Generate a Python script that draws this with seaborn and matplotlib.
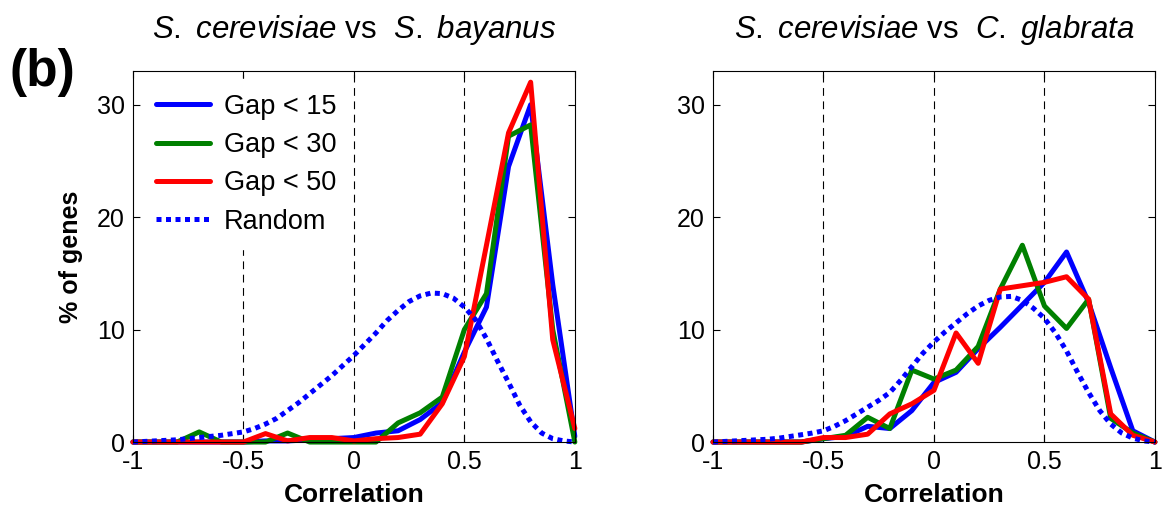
import numpy as np
import pandas as pd
import matplotlib
matplotlib.use("Agg")
import matplotlib.pyplot as plt
import seaborn as sns

sns.set_style("ticks")
plt.rcParams["font.family"] = ["Liberation Sans Narrow", "Liberation Sans", "DejaVu Sans"]
plt.rcParams["mathtext.fontset"] = "custom"
plt.rcParams["mathtext.rm"] = "Liberation Sans"
plt.rcParams["mathtext.it"] = "Liberation Sans:italic"
for key in ["text.color", "axes.labelcolor", "xtick.color", "ytick.color", "axes.edgecolor"]:
    plt.rcParams[key] = "black"

# Correlation bins (step 0.1) and % of genes per bin
corr_bins = [-1.0, -0.9, -0.8, -0.7, -0.6, -0.5, -0.4, -0.3, -0.2, -0.1, 0.0,
             0.1, 0.2, 0.3, 0.4, 0.5, 0.6, 0.7, 0.8, 0.9, 1.0]

# S. cerevisiae vs S. bayanus
bay_gap15 = [0, 0, 0, 0, 0, 0, 0.1, 0.1, 0.2, 0.3, 0.4, 0.8, 1.0, 2.0, 3.5, 8.0, 12.0, 24.5, 30.0, 14.0, 0.5]
bay_gap30 = [0, 0, 0, 0.9, 0, 0, 0, 0.8, 0, 0, 0, 0, 1.7, 2.6, 4.0, 10.0, 13.2, 27.2, 28.2, 10.0, 0]
bay_gap50 = [0, 0, 0, 0, 0, 0, 0.75, 0.1, 0.4, 0.4, 0.1, 0.3, 0.4, 0.7, 3.4, 7.6, 17.5, 27.5, 32.0, 9.1, 1.2]

# S. cerevisiae vs C. glabrata
gla_gap15 = [0, 0, 0, 0, 0, 0.3, 0.5, 1.4, 1.2, 2.8, 5.3, 6.2, 8.3, 10.2, 12.2, 14.2, 16.9, 12.4, 6.6, 1.0, 0]
gla_gap30 = [0, 0, 0, 0, 0, 0.3, 0.6, 2.2, 1.2, 6.4, 5.6, 6.4, 8.5, 13.6, 17.5, 12.1, 10.1, 12.7, 2.1, 0.8, 0]
gla_gap50 = [0, 0, 0, 0, 0, 0.4, 0.4, 0.7, 2.5, 3.4, 4.6, 9.7, 7.0, 13.6, 13.9, 14.2, 14.7, 12.7, 2.5, 0.6, 0]

# Random background, sampled every 0.05
rand_x = [-1.0, -0.95, -0.9, -0.85, -0.8, -0.75, -0.7, -0.65, -0.6, -0.55, -0.5,
          -0.45, -0.4, -0.35, -0.3, -0.25, -0.2, -0.15, -0.1, -0.05, 0.0,
          0.05, 0.1, 0.15, 0.2, 0.25, 0.3, 0.35, 0.4, 0.45, 0.5,
          0.55, 0.6, 0.65, 0.7, 0.75, 0.8, 0.85, 0.9, 0.95, 1.0]
bay_random = [0, 0.05, 0.1, 0.15, 0.2, 0.3, 0.4, 0.5, 0.6, 0.75, 0.9,
              1.2, 1.6, 2.1, 2.8, 3.5, 4.3, 5.1, 5.9, 6.8, 7.7,
              8.7, 9.7, 10.8, 11.7, 12.5, 13.0, 13.25, 13.2, 12.8, 12.0,
              10.9, 9.2, 7.2, 5.3, 3.3, 1.8, 0.8, 0.3, 0.1, 0]
gla_random = [0, 0.05, 0.1, 0.15, 0.2, 0.25, 0.35, 0.5, 0.65, 0.8, 1.0,
              1.4, 1.9, 2.5, 3.1, 3.7, 4.4, 5.5, 6.7, 7.9, 8.9,
              9.8, 10.6, 11.4, 12.1, 12.6, 12.9, 12.95, 12.6, 11.9, 11.0,
              9.7, 8.1, 6.2, 4.4, 2.8, 1.6, 0.8, 0.35, 0.1, 0]

gap_labels = ["Gap < 15", "Gap < 30", "Gap < 50"]
colors = ["#0000ff", "#008000", "#ff0000"]

fig = plt.figure(figsize=(11.66, 5.14), dpi=100)
ax1 = fig.add_axes([0.114, 0.140, 0.379, 0.722])
ax2 = fig.add_axes([0.6115, 0.140, 0.379, 0.722])

panels = [
    (ax1, [bay_gap15, bay_gap30, bay_gap50], bay_random,
     r"$\mathit{S.\ cerevisiae}$ vs  $\mathit{S.\ bayanus}$"),
    (ax2, [gla_gap15, gla_gap30, gla_gap50], gla_random,
     r"$\mathit{S.\ cerevisiae}$ vs  $\mathit{C.\ glabrata}$"),
]

for ax, gaps, rnd, title in panels:
    for xv in [-0.5, 0, 0.5]:
        ax.axvline(xv, color="black", lw=0.8, ls=(0, (7, 5)), zorder=1)
    for vals, lab, col in zip(gaps, gap_labels, colors):
        df = pd.DataFrame({"corr": corr_bins, "pct": vals})
        sns.lineplot(data=df, x="corr", y="pct", ax=ax, color=col, lw=3.6,
                     label=lab, clip_on=False, zorder=3)
    dfr = pd.DataFrame({"corr": rand_x, "pct": rnd})
    sns.lineplot(data=dfr, x="corr", y="pct", ax=ax, color="#0000ff", lw=3.6,
                 ls=(0, (1, 0.9)), label="Random", clip_on=False, zorder=3)
    ax.set_xlim(-1, 1)
    ax.set_ylim(0, 33)
    ax.set_xticks([-1, -0.5, 0, 0.5, 1])
    ax.set_xticklabels(["-1", "-0.5", "0", "0.5", "1"])
    ax.set_yticks([0, 10, 20, 30])
    ax.tick_params(direction="in", top=True, right=True, length=5,
                   labelsize=18, width=0.8, pad=6)
    for s in ax.spines.values():
        s.set_linewidth(0.8)
        s.set_zorder(4)
    ax.set_xlabel("Correlation", fontsize=19, fontweight="bold", labelpad=6)
    ax.set_ylabel("")
    ax.set_title(title, fontsize=22.5, pad=24)

ax1.set_ylabel("% of genes", fontsize=18, fontweight="bold", labelpad=10)
leg = ax1.legend(loc="upper left", fontsize=19.5, frameon=True, handlelength=2.0,
                 borderaxespad=0.3, labelspacing=0.45, handletextpad=0.5,
                 borderpad=0.55)
leg.get_frame().set_edgecolor("white")
leg.get_frame().set_facecolor("white")
leg.get_frame().set_alpha(1)
leg.set_zorder(5)
ax2.get_legend().remove()

fig.text(0.008, 0.858, "(b)", fontsize=37, fontweight="bold", va="center",
         family=["Liberation Sans", "DejaVu Sans"])

fig.savefig("out.png", dpi=100)
